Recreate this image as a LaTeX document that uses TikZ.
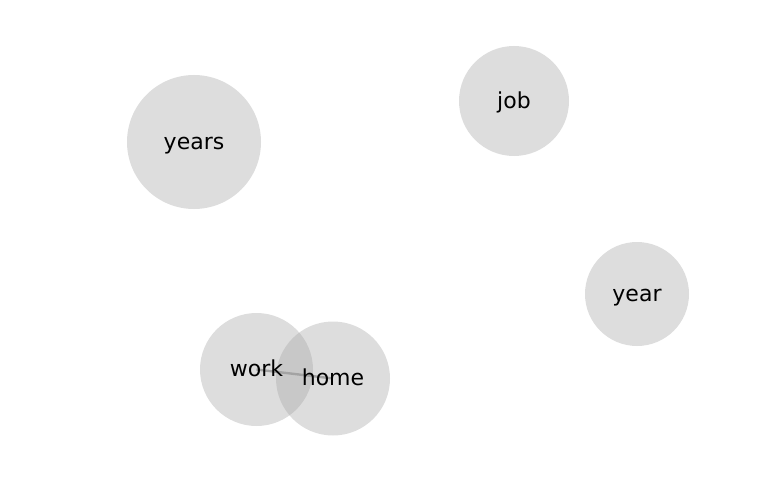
\documentclass[tikz,border=0pt]{standalone}
\usepackage{fontspec}
\setmainfont{DejaVu Sans}
\definecolor{nodegray}{RGB}{166,166,166}
\definecolor{edgegray}{RGB}{110,110,110}
\tikzset{
  word/.style={circle, fill=nodegray, fill opacity=0.38, text opacity=1, inner sep=0pt},
  lbl/.style={inner sep=0pt, anchor=base, font=\fontsize{22}{26}\selectfont},
  link/.style={draw=edgegray, draw opacity=0.65, line width=2.4pt}
}
\begin{document}
\begin{tikzpicture}[x=1pt,y=-1pt]
\useasboundingbox (0,0) rectangle (768,500);
\coordinate (cw) at (256.5,369.5);
\coordinate (ch) at (333,378.5);
\draw[link] (cw) -- (ch);
\node[word, minimum size=134pt] (years) at (194,142) {};
\node[word, minimum size=110pt] (job) at (514,101) {};
\node[word, minimum size=104pt] (year) at (637,294) {};
\node[word, minimum size=113pt] (work) at (cw) {};
\node[word, minimum size=114pt] (home) at (ch) {};
\node[lbl] (tyears) at ([yshift=-7.3pt]years.center) {years};
\node[lbl] (tjob) at ([yshift=-7.3pt]job.center) {job};
\node[lbl] (tyear) at ([yshift=-7.3pt]year.center) {year};
\node[lbl] (twork) at ([yshift=-7.3pt]work.center) {work};
\node[lbl] (thome) at ([yshift=-7.3pt]home.center) {home};
\end{tikzpicture}
\end{document}
